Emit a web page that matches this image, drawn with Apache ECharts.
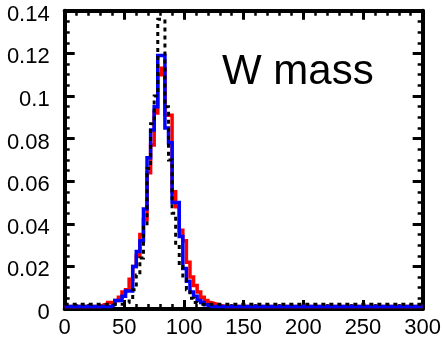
<!DOCTYPE html>
<html>
<head>
<meta charset="utf-8">
<script src="https://cdn.jsdelivr.net/npm/echarts@6/dist/echarts.min.js"></script>
<style>html,body{margin:0;padding:0;background:#fff;}#c{width:444px;height:339px;}</style>
</head>
<body>
<div id="c"></div>
<script>
// Histogram binning (GeV): 100 bins of width 3 from 0 to 300
const binStart = 0;
const binWidth = 3;
const xTicks = [0, 50, 100, 150, 200, 250, 300];
const yTicks = [0, 0.02, 0.04, 0.06, 0.08, 0.1, 0.12, 0.14];
const title = 'W mass';

// red histogram
const redValues = [
  0.0012,0.0012,0.0012,0.0012,0.0012,0.0012,0.0012,0.0012,0.0012,0.0012,
  0.002,0.002,0.003,0.003,0.004,0.0055,0.008,0.009,0.014,0.020,
  0.025,0.035,0.042,0.064,0.077,0.092,0.110,0.113,0.091,0.091,
  0.055,0.048,0.037,0.032,0.022,0.015,0.011,0.008,0.0055,0.004,
  0.003,0.0025,0.002,0.0015,0.0012,0.0012,0.0012,0.0012,0.0012,0.0012,
  0.0012,0.0012,0.0012,0.0012,0.0012,0.0012,0.0012,0.0012,0.0012,0.0012,
  0.0012,0.0012,0.0012,0.0012,0.0012,0.0012,0.0012,0.0012,0.0012,0.0012,
  0.0012,0.0012,0.0012,0.0012,0.0012,0.0012,0.0012,0.0012,0.0012,0.0012,
  0.0012,0.0012,0.0012,0.0012,0.0012,0.0012,0.0012,0.0012,0.0012,0.0012,
  0.0012,0.0012,0.0012,0.0012,0.0012,0.0012,0.0012,0.0012,0.0012,0.0012
];
// blue histogram
const blueValues = [
  0.0012,0.0012,0.0012,0.0012,0.0012,0.0012,0.0012,0.0012,0.0012,0.0012,
  0.0012,0.0012,0.0012,0.002,0.004,0.004,0.006,0.0085,0.0085,0.020,
  0.027,0.032,0.047,0.071,0.084,0.095,0.119,0.119,0.085,0.078,
  0.050,0.050,0.034,0.019,0.013,0.008,0.006,0.004,0.003,0.002,
  0.0012,0.0012,0.0012,0.0012,0.0012,0.0012,0.0012,0.0012,0.0012,0.0012,
  0.0012,0.0012,0.0012,0.0012,0.0012,0.0012,0.0012,0.0012,0.0012,0.0012,
  0.0012,0.0012,0.0012,0.0012,0.0012,0.0012,0.0012,0.0012,0.0012,0.0012,
  0.0012,0.0012,0.0012,0.0012,0.0012,0.0012,0.0012,0.0012,0.0012,0.0012,
  0.0012,0.0012,0.0012,0.0012,0.0012,0.0012,0.0012,0.0012,0.0012,0.0012,
  0.0012,0.0012,0.0012,0.0012,0.0012,0.0012,0.0012,0.0012,0.0012,0.0012
];
// black dotted histogram
const blackValues = [
  0.0022,0.0022,0.0022,0.0022,0.0022,0.0022,0.0022,0.0022,0.0022,0.0022,
  0.0022,0.0022,0.0022,0.0022,0.0022,0.0022,0.0022,0.003,0.0045,0.009,
  0.016,0.024,0.040,0.066,0.087,0.100,0.136,0.136,0.095,0.070,
  0.045,0.030,0.020,0.014,0.009,0.005,0.003,0.0022,0.0022,0.0022,
  0.0022,0.0022,0.0022,0.0022,0.0022,0.0022,0.0022,0.0022,0.0022,0.0022,
  0.0022,0.0022,0.0022,0.0022,0.0022,0.0022,0.0022,0.0022,0.0022,0.0022,
  0.0022,0.0022,0.0022,0.0022,0.0022,0.0022,0.0022,0.0022,0.0022,0.0022,
  0.0022,0.0022,0.0022,0.0022,0.0022,0.0022,0.0022,0.0022,0.0022,0.0022,
  0.0022,0.0022,0.0022,0.0022,0.0022,0.0022,0.0022,0.0022,0.0022,0.0022,
  0.0022,0.0022,0.0022,0.0022,0.0022,0.0022,0.0022,0.0022,0.0022,0.0022
];

function toSteps(vals) {
  const pts = vals.map((v, i) => [binStart + i * binWidth, v]);
  pts.push([binStart + vals.length * binWidth, vals[vals.length - 1]]);
  return pts;
}

const FONT = "'Liberation Sans', Arial, Helvetica, sans-serif";
const xMin = xTicks[0], xMax = xTicks[xTicks.length - 1], xInt = xTicks[1] - xTicks[0];
const yMin = yTicks[0], yMax = yTicks[yTicks.length - 1], yInt = 0.02;

function xAxisCfg(pos, showLabel) {
  return {
    type: 'value', position: pos, min: xMin, max: xMax, interval: xInt,
    axisLine: { show: true, onZero: false, lineStyle: { color: '#000', width: 4 } },
    axisTick: { show: true, inside: true, length: 9, lineStyle: { color: '#000', width: 3 } },
    minorTick: { show: true, splitNumber: 5, length: 5, lineStyle: { color: '#000', width: 2.5 } },
    splitLine: { show: false },
    axisLabel: { show: showLabel, color: '#000', fontSize: 22, fontFamily: FONT, margin: 8 }
  };
}
function yAxisCfg(pos, showLabel) {
  return {
    type: 'value', position: pos, min: yMin, max: yMax, interval: yInt,
    axisLine: { show: true, onZero: false, lineStyle: { color: '#000', width: 4 } },
    axisTick: { show: true, inside: true, length: 10, lineStyle: { color: '#000', width: 3 } },
    minorTick: { show: true, splitNumber: 4, length: 5, lineStyle: { color: '#000', width: 2.5 } },
    splitLine: { show: false },
    axisLabel: { show: showLabel, color: '#000', fontSize: 22, fontFamily: FONT, margin: 15,
      formatter: v => '{s|' + String(+v.toFixed(2)) + '}',
      rich: { s: { fontSize: 22, fontFamily: FONT, color: '#000', padding: [8, 0, 0, 0] } } }
  };
}

const chart = echarts.init(document.getElementById('c'), null, { renderer: 'canvas' });
chart.setOption({
  animation: false,
  backgroundColor: '#fff',
  grid: { left: 64.7, right: 20, top: 10.8, bottom: 29.3, containLabel: false },
  xAxis: [xAxisCfg('bottom', true), xAxisCfg('top', false)],
  yAxis: [yAxisCfg('left', true), yAxisCfg('right', false)],
  graphic: [{
    type: 'text', left: 222, top: 51,
    style: { text: title, fontSize: 42, fontFamily: FONT, fill: '#000' }
  }],
  series: [
    { type: 'line', step: 'end', data: toSteps(redValues), showSymbol: false, symbol: 'none',
      lineStyle: { color: '#ff0000', width: 3.5, join: 'miter' }, z: 2 },
    { type: 'line', step: 'end', data: toSteps(blueValues), showSymbol: false, symbol: 'none',
      lineStyle: { color: '#0000ff', width: 3.5, join: 'miter' }, z: 3 },
    { type: 'line', step: 'end', data: toSteps(blackValues), showSymbol: false, symbol: 'none',
      lineStyle: { color: '#000', width: 3, type: [4, 4], join: 'miter' }, z: 4 }
  ]
});
</script>
</body>
</html>
